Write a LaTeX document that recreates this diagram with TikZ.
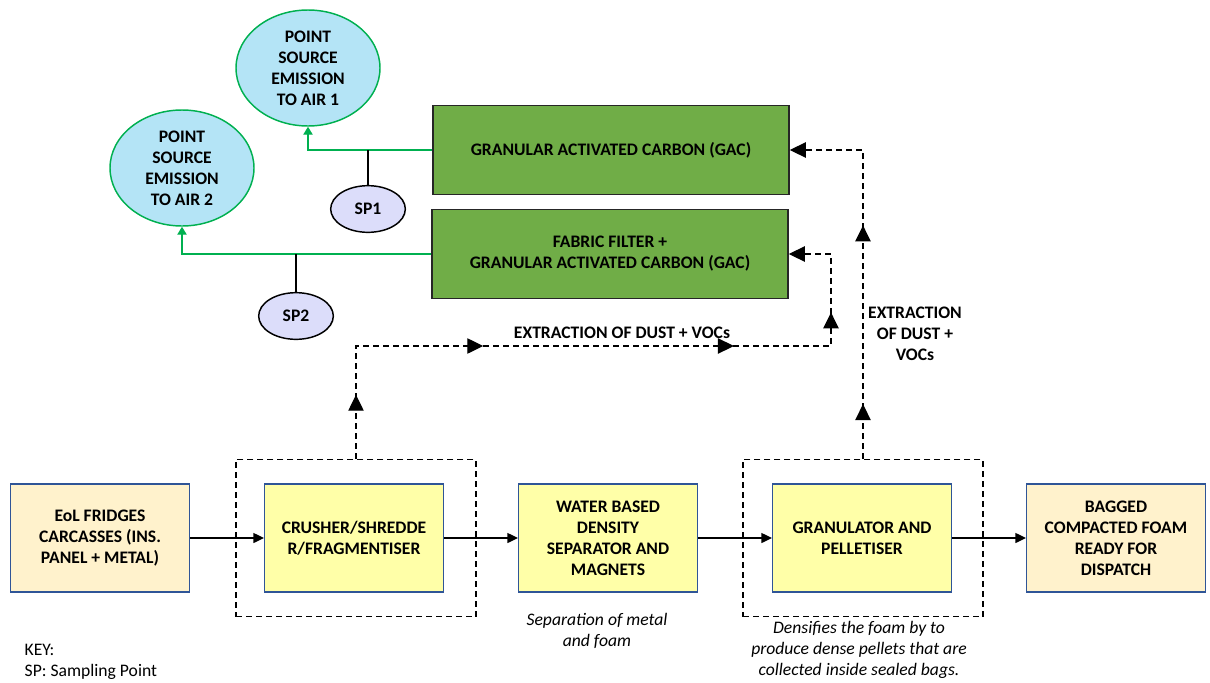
\documentclass[tikz,border=0pt]{standalone}
\usepackage{fontspec}
\setmainfont{Carlito}
\usepackage{xcolor}
\usetikzlibrary{positioning, arrows.meta, shapes.geometric, decorations.markings}

\definecolor{gacgreen}{HTML}{70AD47}
\definecolor{emgreen}{HTML}{00B050}
\definecolor{skyfill}{HTML}{B4E4F6}
\definecolor{spfill}{HTML}{DCDDFA}
\definecolor{procfill}{HTML}{FFFFA8}
\definecolor{endfill}{HTML}{FFF2CC}
\definecolor{boxblue}{HTML}{2F5597}

\tikzset{
  boxtext/.style={font=\fontsize{13.2}{15.75}\selectfont\bfseries, align=center, inner sep=2pt},
  gacbox/.style={boxtext, draw=black!85, line width=1.2pt, fill=gacgreen, minimum width=267pt, minimum height=67pt},
  airnode/.style={boxtext, ellipse, draw=emgreen, line width=1.1pt, fill=skyfill, minimum width=108pt, minimum height=87pt, inner sep=0pt},
  spnode/.style={boxtext, ellipse, draw=black, line width=1.1pt, fill=spfill, minimum width=56pt, minimum height=35pt, inner sep=0pt},
  procbox/.style={boxtext, draw=boxblue, line width=1pt, fill=procfill, minimum width=134pt, minimum height=81pt},
  endbox/.style={procbox, fill=endfill},
  zone/.style={draw, line width=0.9pt, dash pattern=on 4.5pt off 3pt, minimum width=180pt, minimum height=118pt},
  flow/.style={line width=1pt, -{Triangle[length=8pt,width=7.5pt]}},
  emission/.style={line width=1.1pt, draw=emgreen, -{Triangle[length=6pt,width=7pt]}},
  extract/.style={line width=1pt, dash pattern=on 4.5pt off 3pt, -{Triangle[length=12pt,width=11.5pt]}, postaction={decorate}},
  /pgf/decoration/midtip/.style={mark=at position #1 with {\arrow{Triangle[length=12pt,width=11.5pt]}}},
  note/.style={font=\fontsize{13.2}{15.75}\selectfont\itshape, align=center}
}

\begin{document}
\begin{tikzpicture}[x=0.75pt, y=-0.75pt, node distance=190.5pt, on grid]
  \useasboundingbox (0,0) rectangle (1210,682);

  % treatment units and emission points
  \node[gacbox] (gac1) at (611,150) {GRANULAR ACTIVATED CARBON (GAC)};
  \node[gacbox] (gac2) at (610,254) {FABRIC FILTER +\\GRANULAR ACTIVATED CARBON (GAC)};
  \node[airnode] (air1) at (308,68) {POINT\\SOURCE\\EMISSION\\TO AIR 1};
  \node[airnode] (air2) at (182,168) {POINT\\SOURCE\\EMISSION\\TO AIR 2};
  \node[spnode] (sp1) at (368,209) {SP1};
  \node[spnode] (sp2) at (296,316) {SP2};

  % process line
  \node[endbox] (eol) at (100,538) {EoL FRIDGES\\CARCASSES (INS.\\PANEL + METAL)};
  \node[procbox] (crusher) [right=of eol] {CRUSHER/SHREDDE\\R/FRAGMENTISER};
  \node[procbox] (water) [right=of crusher] {WATER BASED\\DENSITY\\SEPARATOR AND\\MAGNETS};
  \node[procbox] (gran) [right=of water] {GRANULATOR AND\\PELLETISER};
  \node[endbox] (bagged) [right=of gran] {BAGGED\\COMPACTED FOAM\\READY FOR\\DISPATCH};

  \node[zone] (crushzone) at (356,538) {};
  \node[zone] (granzone) at (863,538) {};

  \node[note] (sepnote) at (597,631) {Separation of metal\\and foam};
  \node[note] (densnote) at (859,650) {Densifies the foam by to\\produce dense pellets that are\\collected inside sealed bags.};
  \node[boxtext] (extlabel) at (622,333) {EXTRACTION OF DUST + VOCs};
  \node[boxtext] (extlabel2) at (915,334) {EXTRACTION\\OF DUST +\\VOCs};
  \node[font=\fontsize{13.2}{15.75}\selectfont, align=left, anchor=west] (key) at (20,662) {KEY:\\SP: Sampling Point};

  \coordinate (ex1) at (356,346);
  \coordinate (ex2) at (831,346);

  \path[flow]
    (eol) edge (crusher)
    (crusher) edge (water)
    (water) edge (gran)
    (gran) edge (bagged);

  \draw[emission] (gac1.west) -| (air1.south);
  \draw[emission] (gac2.west) -| (air2.south);
  \draw[line width=1pt] (sp1.north) -- (sp1 |- gac1.west);
  \draw[line width=1pt] (sp2.north) -- (sp2 |- gac2.west);

  \draw[extract, decoration={markings, midtip=48pt, midtip=180pt, midtip=368pt, midtip=466pt}]
    (crushzone.north) -- (ex1) -- (ex2) |- (gac2.east);
  \draw[extract, decoration={markings, midtip=41pt, midtip=175pt}]
    (granzone.north) |- (gac1.east);

\end{tikzpicture}
\end{document}
